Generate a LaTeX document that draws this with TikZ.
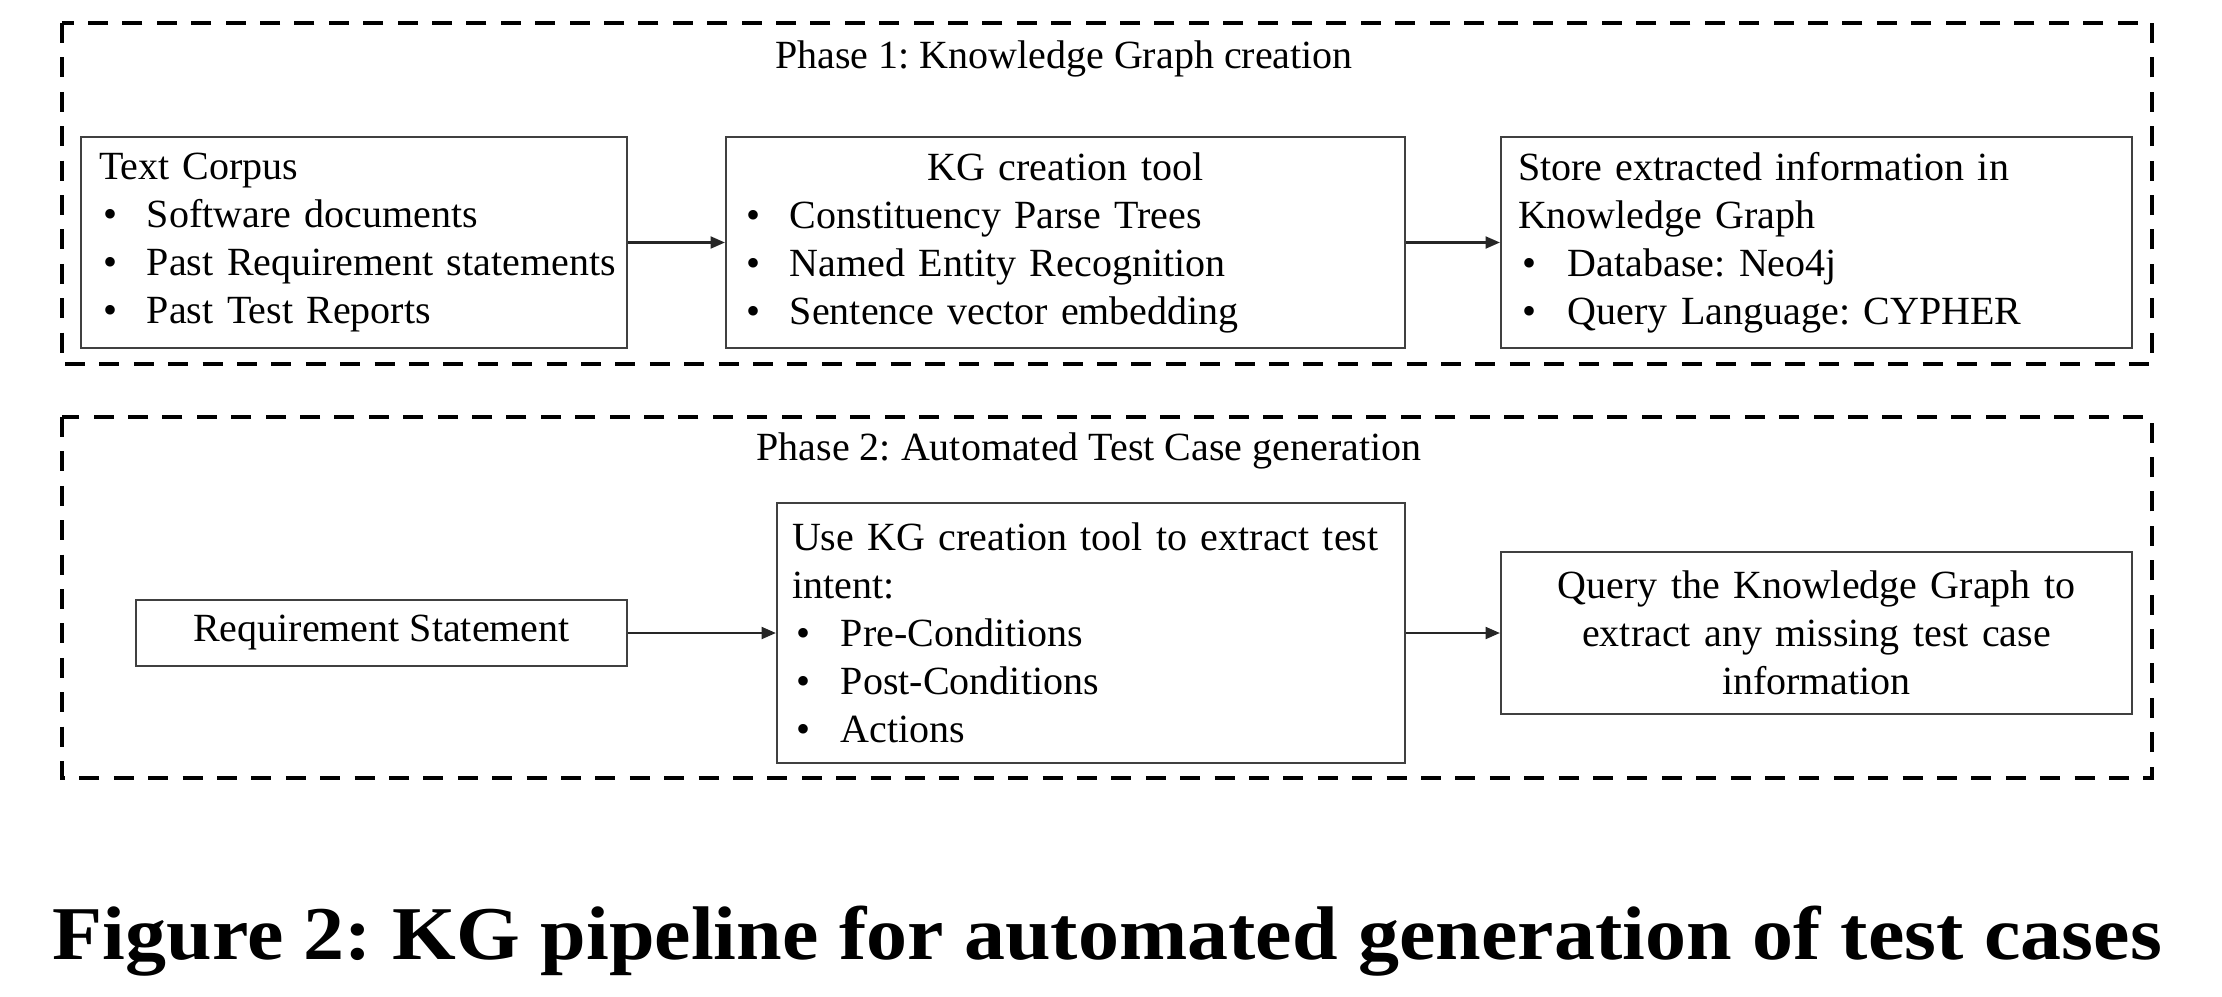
\documentclass[tikz,border=0pt]{standalone}
\usepackage{fontspec}
\setmainfont{Liberation Serif}
\usetikzlibrary{arrows.meta}
\frenchspacing
\newcommand\bitem[2]{\mbox{\makebox[#1][l]{\hspace{1.2pt}\textbullet}#2}}
\begin{document}
\begin{tikzpicture}[x=0.25pt,y=-0.25pt,
  frame/.style={draw=black, line width=1.05pt, dash pattern=on 5pt off 3.6pt},
  box/.style={draw=black!75, line width=0.55pt, rectangle, inner ysep=0pt,
    font=\fontsize{10}{12}\selectfont, align=left},
  phasetitle/.style={font=\fontsize{10}{12}\selectfont, anchor=base, inner sep=0pt},
  conn/.style={draw=black!85, line width=0.55pt, -{Triangle[length=3.6pt,width=3pt]}}]
\useasboundingbox (0,0) rectangle (2222,996);

% Phase frames
\draw[frame] (62,23) rectangle (2152,364);
\draw[frame] (62,417) rectangle (2152,778);
\node[phasetitle] (t1) at (1064,68) {Phase 1: Knowledge Graph creation};
\node[phasetitle] (t2) at (1089,460) {Phase 2: Automated Test Case generation};

% Phase 1 boxes
\node[box, inner xsep=4.5pt, text width=127.5pt, minimum width=136.5pt, minimum height=52.75pt] (A) at (354,242.5)
 {\mbox{Text Corpus}\\
  \bitem{12pt}{Software documents}\\
  \bitem{12pt}{Past Requirement statements}\\
  \bitem{12pt}{Past Test Reports}};
\node[box, inner xsep=4pt, text width=161.75pt, minimum width=169.75pt, minimum height=52.75pt] (B) at (1065.5,242.5)
 {\makebox[\linewidth][c]{KG creation tool}\\
  \bitem{12pt}{Constituency Parse Trees}\\
  \bitem{12pt}{Named Entity Recognition}\\
  \bitem{12pt}{Sentence vector embedding}};
\node[box, inner xsep=4.25pt, text width=149.25pt, minimum width=157.75pt, minimum height=52.75pt] (C) at (1816.5,242.5)
 {\mbox{Store extracted information in}\\
  \mbox{Knowledge Graph}\\
  \bitem{12.5pt}{Database: Neo4j}\\
  \bitem{12.5pt}{Query Language: CYPHER}};

% Phase 2 boxes
\node[box, align=center, inner xsep=2pt, minimum width=122.75pt, minimum height=16.5pt] (R) at (381.5,633)
 {Requirement Statement};
\node[box, inner xsep=3.75pt, text width=149.5pt, minimum width=157pt, minimum height=65pt] (U) at (1091,633)
 {\mbox{Use KG creation tool to extract test}\\
  \mbox{intent:}\\
  \bitem{12.25pt}{Pre-Conditions}\\
  \bitem{12.25pt}{Post-Conditions}\\
  \bitem{12.25pt}{Actions}};
\node[box, align=center, inner xsep=4pt, text width=149.75pt, minimum width=157.75pt, minimum height=40.5pt] (Q) at (1816.5,633)
 {\mbox{Query the Knowledge Graph to}\\
  \mbox{extract any missing test case}\\
  \mbox{information}};

% Connectors
\draw[conn] (A.east) -- (B.west);
\draw[conn] (B.east) -- (C.west);
\draw[conn] (R.east) -- (U.west);
\draw[conn] (U.east) -- (Q.west);

% Caption
\node[anchor=base west, inner sep=0pt] (cap) at (52,959)
 {\resizebox{527.25pt}{\height}{\bfseries\fontsize{19}{23}\selectfont Figure 2: KG pipeline for automated generation of test cases}};
\end{tikzpicture}
\end{document}
